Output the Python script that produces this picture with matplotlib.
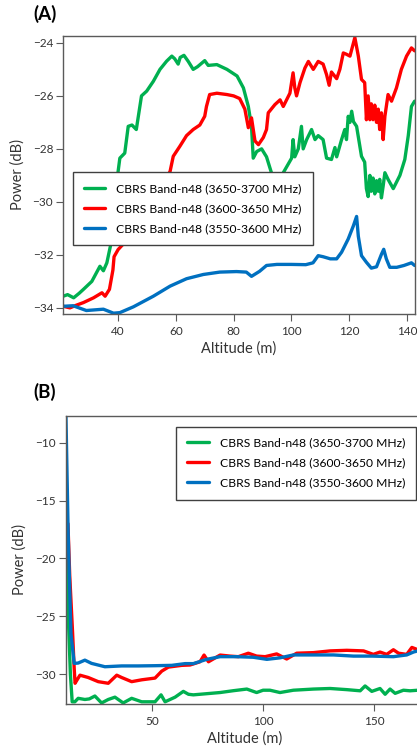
import matplotlib
matplotlib.use("Agg")
import matplotlib.pyplot as plt

plt.rcParams['font.family'] = ['Lato', 'DejaVu Sans']

# colours / labels
green = '#00B050'
red = '#FF0000'
blue = '#0070C0'
labels = ['CBRS Band-n48 (3650-3700 MHz)',
          'CBRS Band-n48 (3600-3650 MHz)',
          'CBRS Band-n48 (3550-3600 MHz)']

# ---- panel A data (altitude m, power dB)
a_green_x = [21.0, 22.5, 24.6, 26.5, 28.0, 30.9, 33.7, 34.9, 36.1, 37.8, 39.0, 40.0, 40.6, 42.3,
             43.5, 44.8, 46.3, 48.1, 49.9, 52.2, 54.5, 56.8, 58.6, 59.6, 60.8, 61.5, 62.8, 64.3,
             66.0, 67.5, 70.0, 71.2, 74.2, 77.7, 81.2, 83.4, 85.1, 86.2, 86.8, 88.0, 89.7, 91.4,
             93.1, 95.0, 97.2, 100.1, 100.6, 101.2, 102.4, 103.5, 104.1, 105.3, 107.0, 108.2,
             109.3, 111.0, 112.2, 113.9, 115.1, 115.7, 117.4, 118.5, 119.1, 119.7, 120.3, 120.9,
             121.5, 122.6, 124.3, 125.4, 126.0, 126.6, 127.2, 127.7, 128.3, 128.9, 129.5, 130.1,
             130.6, 131.2, 131.8, 132.4, 133.5, 135.3, 137.6, 139.3, 140.5, 141.6, 142.7]
a_green_y = [-33.56, -33.5, -33.62, -33.45, -33.3, -33.0, -32.43, -32.6, -32.3, -31.43, -30.0,
             -28.85, -28.35, -28.16, -27.15, -27.1, -27.27, -26.0, -25.82, -25.45, -25.0, -24.69,
             -24.5, -24.6, -24.8, -24.55, -24.47, -24.7, -25.0, -24.9, -24.67, -24.85, -24.82,
             -25.0, -25.25, -25.7, -26.4, -27.15, -28.35, -28.1, -28.0, -28.3, -28.9, -29.4,
             -28.9, -28.35, -27.65, -28.3, -28.0, -27.15, -28.0, -27.65, -27.27, -27.65, -27.5,
             -27.65, -28.35, -28.4, -27.95, -28.3, -27.65, -27.27, -27.65, -26.77, -27.0, -26.58,
             -26.97, -27.15, -28.28, -28.5, -29.5, -29.8, -29.0, -29.6, -29.1, -29.7, -29.2,
             -29.6, -29.15, -29.85, -29.4, -28.9, -29.15, -29.5, -29.0, -28.4, -27.5, -26.4, -26.2]

a_red_x = [21.0, 23.3, 25.5, 28.0, 31.5, 34.4, 35.5, 37.0, 38.2, 38.6, 40.0, 41.7, 45.0, 50.0,
           54.0, 58.0, 59.1, 61.4, 63.7, 66.0, 68.3, 70.0, 70.6, 71.7, 74.2, 77.7, 80.0, 82.1,
           83.9, 85.1, 86.2, 87.4, 88.6, 90.3, 91.4, 92.0, 94.3, 96.1, 97.2, 99.5, 100.6, 101.2,
           101.8, 103.0, 104.7, 105.9, 107.6, 109.3, 111.0, 112.2, 113.1, 113.9, 115.7, 116.8,
           118.0, 119.1, 120.3, 122.0, 123.2, 124.3, 125.4, 126.0, 126.6, 127.2, 127.7, 128.3,
           128.9, 129.5, 130.1, 130.6, 131.2, 131.8, 132.4, 133.5, 134.7, 136.4, 138.1, 139.9,
           141.6, 142.7]
a_red_y = [-33.94, -34.0, -33.9, -33.8, -33.62, -33.43, -33.56, -33.3, -32.57, -32.07, -31.8,
           -31.6, -31.0, -30.2, -29.6, -28.85, -28.28, -27.9, -27.5, -27.27, -27.1, -26.77, -26.4,
           -25.95, -25.9, -25.95, -26.0, -26.1, -26.5, -27.2, -26.83, -27.7, -27.84, -27.57,
           -27.27, -26.64, -26.33, -26.15, -26.4, -25.9, -25.13, -25.7, -26.0, -25.5, -24.95,
           -24.7, -25.0, -24.7, -24.8, -25.2, -25.6, -25.1, -25.35, -25.0, -24.38, -24.43, -24.5,
           -23.8, -24.5, -25.38, -25.5, -26.9, -26.0, -26.9, -26.3, -26.9, -26.35, -27.0, -26.5,
           -27.27, -26.64, -27.65, -26.77, -25.95, -26.2, -25.7, -25.0, -24.5, -24.19, -24.3]

a_blue_x = [21.0, 24.4, 29.0, 34.9, 38.4, 40.6, 45.3, 52.2, 58.0, 63.7, 69.5, 75.2, 81.0, 84.4,
            86.2, 89.0, 91.4, 95.0, 100.0, 105.0, 107.5, 109.3, 111.0, 113.5, 115.7, 117.4,
            119.7, 121.5, 122.6, 123.2, 124.3, 126.0, 127.7, 129.5, 131.2, 132.0, 132.9, 134.1,
            136.5, 139.0, 141.6, 142.7]
a_blue_y = [-33.94, -33.92, -34.1, -34.05, -34.2, -34.18, -33.96, -33.56, -33.18, -32.9, -32.74,
            -32.65, -32.63, -32.65, -32.81, -32.62, -32.4, -32.36, -32.36, -32.37, -32.3, -32.03,
            -32.07, -32.15, -32.15, -31.9, -31.4, -30.9, -30.55, -31.3, -32.03, -32.28, -32.5,
            -32.45, -31.98, -31.79, -32.15, -32.47, -32.47, -32.4, -32.3, -32.4]

# ---- panel B data
b_green_x = [11.6, 12.2, 12.6, 13.5, 14.3, 15.5, 17.0, 20.0, 22.0, 24.5, 27.5, 30.5, 33.5, 37.2,
             41.0, 45.5, 51.5, 54.2, 56.0, 60.5, 64.2, 66.5, 68.7, 74.7, 80.7, 86.7, 92.7, 97.1,
             100.0, 103.1, 107.6, 113.6, 122.6, 130.1, 137.6, 143.6, 145.8, 148.8, 152.5, 154.8,
             157.0, 159.3, 163.0, 166.0, 169.5]
b_green_y = [-12.0, -22.0, -25.3, -30.0, -32.4, -32.4, -32.1, -32.2, -32.15, -31.9, -32.5, -32.2,
             -32.0, -32.5, -32.1, -32.4, -32.4, -31.8, -32.4, -32.0, -31.5, -31.75, -31.8, -31.7,
             -31.6, -31.44, -31.3, -31.6, -31.4, -31.4, -31.6, -31.4, -31.3, -31.25, -31.35,
             -31.45, -31.03, -31.5, -31.25, -31.75, -31.3, -31.67, -31.4, -31.45, -31.4]

b_red_x = [12.4, 13.2, 14.5, 15.2, 15.6, 16.2, 17.8, 21.5, 26.0, 30.5, 34.3, 36.5, 41.0,
           45.5, 51.5, 54.5, 57.5, 63.5, 67.2, 71.7, 73.5, 75.5, 80.7, 85.2, 88.9, 93.4, 97.1,
           100.9, 106.1, 110.6, 115.1, 122.6, 130.1, 137.6, 145.1, 149.5, 152.5, 155.5, 158.5,
           160.8, 164.5, 166.8, 169.5]
b_red_y = [-17.0, -21.5, -26.5, -29.5, -30.8, -30.6, -30.1, -30.3, -30.66, -30.8, -30.1,
           -30.3, -30.66, -30.5, -30.35, -29.75, -29.4, -29.25, -29.22, -28.94, -28.36, -28.94,
           -28.36, -28.45, -28.5, -28.2, -28.45, -28.5, -28.26, -28.7, -28.2, -28.15, -28.0,
           -27.95, -28.0, -28.3, -28.1, -28.3, -27.9, -28.2, -28.3, -27.7, -27.9]

b_blue_x = [11.5, 12.5, 13.75, 15.2, 17.0, 20.0, 23.0, 29.0, 36.5, 44.0, 51.5, 59.0, 65.0, 68.7,
            74.7, 80.7, 88.2, 95.6, 101.7, 107.6, 113.6, 122.6, 131.6, 140.6, 149.0, 158.5,
            164.5, 167.5, 169.5]
b_blue_y = [-7.7, -17.9, -26.5, -29.08, -29.05, -28.8, -29.08, -29.37, -29.3, -29.3, -29.28,
            -29.25, -29.1, -29.1, -28.73, -28.5, -28.5, -28.55, -28.73, -28.6, -28.35, -28.35,
            -28.35, -28.45, -28.45, -28.5, -28.35, -28.1, -28.0]

fig = plt.figure(figsize=(4.17, 7.56), dpi=100)
axA = fig.add_axes([0.151, 0.5847, 0.844, 0.3677])
axB = fig.add_axes([0.1576, 0.0688, 0.86, 0.3813])

lw = 2.4
for ax, data in [(axA, [(a_green_x, a_green_y, green), (a_red_x, a_red_y, red), (a_blue_x, a_blue_y, blue)]),
                 (axB, [(b_green_x, b_green_y, green), (b_red_x, b_red_y, red), (b_blue_x, b_blue_y, blue)])]:
    for (x, y, c), lab in zip(data, labels):
        ax.plot(x, y, color=c, lw=lw, label=lab, solid_joinstyle='round', solid_capstyle='round')
    for s in ax.spines.values():
        s.set_color('#5a5a5a')
        s.set_linewidth(1.0)
    ax.tick_params(direction='out', length=5, width=0.8, color='#5a5a5a',
                   labelsize=8.5, labelcolor='#333333', pad=2)
    ax.tick_params(axis='x', pad=3.5)
    ax.set_xlabel('Altitude (m)', fontsize=10.5, color='#333333', labelpad=3)
    ax.set_ylabel('Power (dB)', fontsize=10.5, color='#333333', labelpad=6)

axA.set_xlim(20.9, 142.8)
axA.set_ylim(-34.23, -23.74)
axA.set_xticks([40, 60, 80, 100, 120, 140])
axA.set_yticks([-24, -26, -28, -30, -32, -34])

axB.set_xlim(11.4, 172.4)
axB.set_ylim(-32.59, -7.67)
axB.set_xticks([50, 100, 150])
axB.set_yticks([-10, -15, -20, -25, -30])

leg_kw = dict(fontsize=8.7, frameon=True, fancybox=False, framealpha=1, edgecolor='#404040',
              handlelength=1.8, handletextpad=0.9, labelspacing=0.75, borderpad=0.9,
              borderaxespad=0)
legA = axA.legend(loc='lower left', bbox_to_anchor=(0.028, 0.248), **leg_kw)
legA.get_frame().set_linewidth(1.0)
legB = axB.legend(loc='upper left', bbox_to_anchor=(176 / 417, 1 - 426.7 / 756),
                  bbox_transform=fig.transFigure, **leg_kw)
legB.get_frame().set_linewidth(1.0)

fig.text(33 / 417, 1 - 14 / 756, '(A)', fontsize=13.5, fontweight='bold', va='center', ha='left')
fig.text(33 / 417, 1 - 392 / 756, '(B)', fontsize=13.5, fontweight='bold', va='center', ha='left')

fig.savefig('out.png', dpi=100)
